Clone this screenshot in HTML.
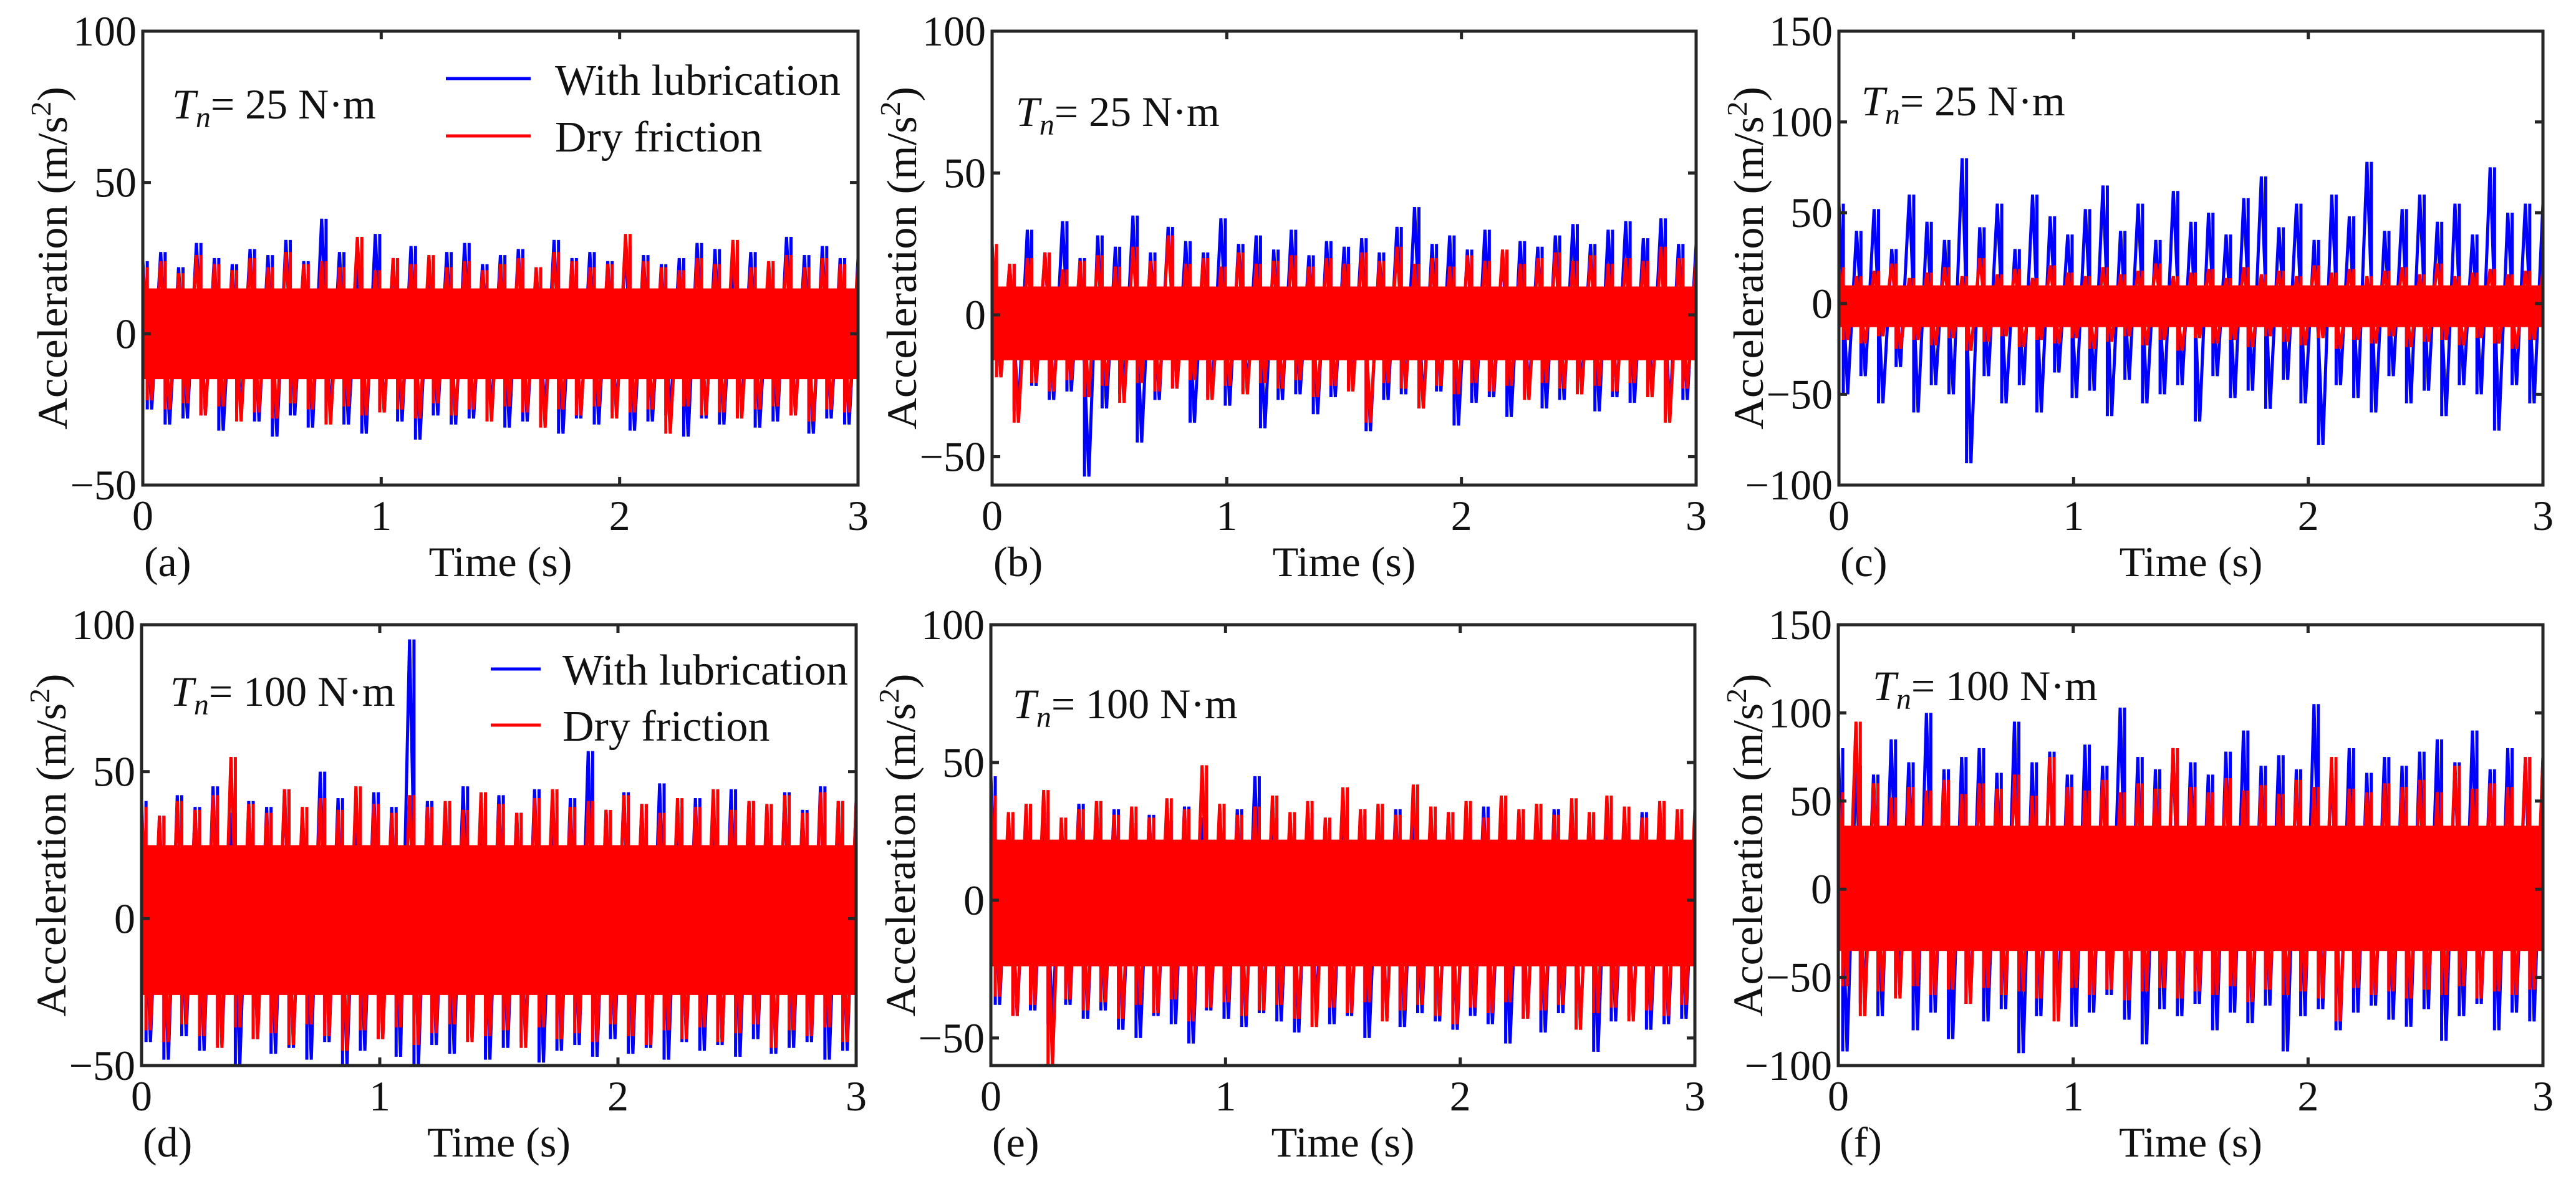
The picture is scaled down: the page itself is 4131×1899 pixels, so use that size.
<!DOCTYPE html>
<html><head><meta charset="utf-8"><title>Acceleration time series</title>
<style>
html,body{margin:0;padding:0;background:#fff;}
svg{display:block;}
svg text{font-family:"Liberation Serif","DejaVu Serif","Times New Roman",serif;fill:#111;}
</style></head>
<body>
<svg id="fig" width="4131" height="1899" viewBox="0 0 4131 1899" xmlns="http://www.w3.org/2000/svg" font-family="'Liberation Serif', 'DejaVu Serif', serif"></svg>
<script>
// time axis
const timeTicks = [0, 1, 2, 3];
// panel (a) Tn=25, x1
const aBlueHi = [24,27,22,30,25,23,28,26,31,24,38,27,22,33,25,29,24,27,30,23,26,28,22,31,25,27,24,29,26,23,25,30,28,24,27,22,32,26,29,25];
const aBlueLo = [-25,-30,-28,-27,-32,-26,-29,-34,-27,-31,-28,-30,-33,-26,-29,-35,-27,-30,-28,-26,-31,-29,-27,-33,-28,-30,-26,-32,-29,-27,-34,-28,-30,-26,-31,-29,-27,-33,-28,-30];
const aRedHi = [22,24,20,26,23,21,25,22,27,23,24,22,32,21,25,23,26,22,24,21,23,25,22,27,24,22,23,33,24,22,21,25,23,31,22,24,26,22,25,23];
const aRedLo = [-22,-25,-23,-27,-24,-29,-26,-28,-23,-25,-30,-24,-27,-26,-25,-28,-23,-27,-25,-29,-24,-26,-31,-25,-27,-24,-28,-26,-25,-33,-24,-27,-26,-28,-25,-24,-27,-29,-25,-26];
const aCore = [-15, 15];
// panel (b) Tn=25, x2
const bBlueHi = [20,18,30,22,33,20,28,24,35,22,31,26,22,34,25,28,23,30,21,26,24,27,22,31,38,25,28,23,30,22,26,24,28,32,25,30,33,27,34,25];
const bBlueLo = [-22,-34,-25,-30,-27,-57,-33,-28,-45,-30,-26,-38,-29,-32,-27,-40,-30,-28,-35,-29,-26,-41,-30,-28,-33,-27,-39,-31,-29,-36,-28,-33,-30,-27,-34,-29,-31,-28,-35,-30];
const bRedHi = [25,18,20,22,16,19,21,17,24,19,28,18,20,17,22,18,19,21,17,20,18,22,19,24,18,20,17,21,19,23,18,20,22,19,21,18,20,19,24,20];
const bRedLo = [-22,-38,-24,-27,-23,-29,-25,-31,-24,-27,-26,-23,-30,-25,-28,-24,-26,-23,-29,-25,-27,-38,-24,-26,-33,-25,-28,-24,-27,-25,-30,-24,-26,-28,-25,-27,-24,-29,-38,-26];
const bCore = [-16, 10];
// panel (c) Tn=25, x3
const cBlueHi = [55,40,52,30,60,45,35,80,42,55,30,60,48,38,52,65,40,55,35,62,45,50,38,58,70,42,55,35,60,48,78,40,52,60,45,55,38,75,50,55];
const cBlueLo = [-50,-40,-55,-35,-60,-45,-50,-88,-40,-55,-45,-60,-38,-52,-48,-62,-42,-55,-50,-45,-65,-40,-52,-48,-58,-42,-55,-78,-45,-52,-60,-40,-55,-48,-62,-45,-50,-70,-45,-55];
const cRedHi = [20,15,18,22,14,17,20,15,25,16,19,14,21,17,15,20,16,18,22,15,17,19,14,20,16,18,15,21,17,19,15,18,20,16,22,15,17,19,16,18];
const cRedLo = [-20,-22,-18,-25,-20,-23,-19,-26,-21,-18,-24,-20,-22,-19,-25,-21,-18,-23,-20,-26,-19,-22,-20,-24,-18,-21,-23,-19,-25,-20,-22,-18,-24,-21,-20,-23,-19,-22,-25,-20];
const cCore = [-13, 10];
// panel (d) Tn=100, x1
const dBlueHi = [40,35,42,38,45,36,40,38,44,37,50,41,36,43,38,95,40,37,45,39,42,36,44,38,41,57,37,43,39,46,38,41,36,44,40,38,43,37,45,40];
const dBlueLo = [-42,-48,-40,-45,-43,-50,-41,-46,-44,-48,-42,-50,-45,-41,-47,-50,-43,-46,-41,-48,-44,-42,-49,-45,-43,-47,-41,-46,-44,-48,-42,-45,-43,-47,-41,-46,-44,-42,-48,-45];
const dRedHi = [38,35,40,37,42,55,39,36,44,38,41,37,45,39,36,42,38,40,37,43,39,36,41,44,38,40,37,42,39,36,41,38,44,37,40,39,42,36,43,40];
const dRedLo = [-38,-42,-36,-40,-44,-37,-41,-39,-43,-36,-40,-45,-38,-41,-37,-43,-39,-36,-42,-40,-38,-44,-37,-41,-39,-42,-36,-40,-43,-38,-41,-37,-42,-39,-36,-44,-38,-40,-37,-42];
const dCore = [-26, 25];
// panel (e) Tn=100, x2
const eBlueHi = [45,30,28,32,27,35,30,33,28,31,29,34,30,27,33,45,30,28,32,29,35,31,28,33,30,27,32,29,34,31,28,30,33,29,31,35,28,32,30,29];
const eBlueLo = [-38,-42,-40,-45,-38,-43,-40,-47,-50,-42,-45,-52,-40,-43,-46,-41,-44,-48,-40,-45,-42,-50,-43,-46,-41,-44,-47,-42,-45,-52,-43,-48,-41,-46,-55,-44,-42,-47,-45,-43];
const eRedHi = [38,32,35,40,30,33,36,31,34,30,37,33,49,35,31,34,38,32,36,30,41,33,35,31,42,34,32,36,30,38,33,35,31,37,32,38,34,30,36,33];
const eRedLo = [-35,-42,-38,-60,-36,-40,-37,-43,-38,-41,-36,-44,-39,-37,-42,-40,-38,-43,-46,-39,-41,-37,-44,-40,-38,-42,-45,-39,-41,-37,-43,-40,-38,-47,-41,-39,-44,-40,-42,-38];
const eCore = [-24, 22];
// panel (f) Tn=100, x3
const fBlueHi = [80,70,65,85,72,100,68,75,80,66,95,72,78,65,82,70,103,75,68,80,72,65,78,90,70,76,68,105,72,80,66,75,70,78,85,72,90,68,80,75];
const fBlueLo = [-92,-65,-72,-60,-80,-70,-85,-65,-75,-68,-93,-72,-66,-78,-70,-60,-74,-88,-68,-72,-65,-80,-70,-76,-66,-92,-72,-68,-80,-70,-66,-74,-78,-68,-86,-72,-65,-80,-70,-75];
const fRedHi = [55,95,60,52,58,56,62,54,60,57,65,53,75,58,56,62,55,60,57,80,58,55,63,56,59,54,62,58,75,57,55,60,58,62,55,70,57,60,58,75];
const fRedLo = [-55,-72,-58,-62,-55,-60,-57,-65,-56,-60,-58,-62,-75,-56,-60,-57,-63,-58,-56,-62,-58,-60,-55,-64,-57,-60,-58,-62,-75,-56,-60,-58,-62,-57,-60,-55,-62,-58,-60,-57];
const fCore = [-35, 36];
// y tick labels
const yTicksA = [-50, 0, 50, 100];
const yTicksC = [-100, -50, 0, 50, 100, 150];
const panelLetters = ['(a)','(b)','(c)','(d)','(e)','(f)'];
const torqueLabels = ['25','25','25','100','100','100'];

const NS = 'http://www.w3.org/2000/svg';
const svg = document.getElementById('fig');
const FONT = "'Liberation Serif', 'DejaVu Serif', serif";
function mk(tag, attrs, parent){
  const e = document.createElementNS(NS, tag);
  for (const k in attrs) e.setAttribute(k, attrs[k]);
  if (tag === 'text') e.setAttribute('font-family', FONT);
  (parent || svg).appendChild(e);
  return e;
}
const panels = [
  {id:'a', x0:229, x1:1376, y0:50, y1:778, ymin:-50, ymax:100, ticks:yTicksA, bh:aBlueHi, bl:aBlueLo, rh:aRedHi, rl:aRedLo, core:aCore, tx:276, ty:190, legend:{lx0:715, lx1:851, ly1:126, ly2:218, tx:890, t1:152, t2:243}},
  {id:'b', x0:1591, x1:2720, y0:50, y1:778, ymin:-60, ymax:100, ticks:yTicksA, bh:bBlueHi, bl:bBlueLo, rh:bRedHi, rl:bRedLo, core:bCore, tx:1629, ty:202},
  {id:'c', x0:2949, x1:4078, y0:50, y1:778, ymin:-100, ymax:150, ticks:yTicksC, bh:cBlueHi, bl:cBlueLo, rh:cRedHi, rl:cRedLo, core:cCore, tx:2985, ty:185},
  {id:'d', x0:227, x1:1373, y0:1002, y1:1709, ymin:-50, ymax:100, ticks:yTicksA, bh:dBlueHi, bl:dBlueLo, rh:dRedHi, rl:dRedLo, core:dCore, tx:273, ty:1132, legend:{lx0:787, lx1:867, ly1:1073, ly2:1163, tx:902, t1:1098, t2:1188}},
  {id:'e', x0:1589, x1:2718, y0:1002, y1:1709, ymin:-60, ymax:100, ticks:yTicksA, bh:eBlueHi, bl:eBlueLo, rh:eRedHi, rl:eRedLo, core:eCore, tx:1624, ty:1152},
  {id:'f', x0:2948, x1:4078, y0:1002, y1:1709, ymin:-100, ymax:150, ticks:yTicksC, bh:fBlueHi, bl:fBlueLo, rh:fRedHi, rl:fRedLo, core:fCore, tx:3003, ty:1123}
];

panels.forEach((p, pi) => {
  const g = mk('g', {});
  
  
  const xs = t => p.x0 + (t - 0) / 3 * (p.x1 - p.x0);
  const ys = v => p.y1 - (v - p.ymin) / (p.ymax - p.ymin) * (p.y1 - p.y0);
  const clipId = 'clip-' + p.id;
  const cp = mk('clipPath', {id: clipId}, g);
  mk('rect', {x:p.x0, y:p.y0, width:p.x1-p.x0, height:p.y1-p.y0}, cp);
  const plot = mk('g', {'clip-path':'url(#'+clipId+')'}, g);

  function drawSeries(hi, lo, color, name){
    const sg = mk('g', {}, plot);
    
    
    const n = hi.length;
    let pts = [];
    for (let i = 0; i < n; i++){
      const t0 = 3 * i / n, t1 = 3 * (i + 0.5) / n;
      pts.push(xs(t0).toFixed(1)+','+ys(hi[i]).toFixed(1));
      pts.push(xs(t1).toFixed(1)+','+ys(lo[i]).toFixed(1));
    }
    pts.push(xs(3).toFixed(1)+','+ys(hi[n-1]).toFixed(1));
    const pl = mk('polyline', {points:pts.join(' '), fill:'none', stroke:color, 'stroke-width':5, 'stroke-linejoin':'miter'}, sg);
    
    
    for (let i = 0; i < n; i++){
      const tx = xs(3 * (i + 0.25) / n);
      const sp = mk('line', {x1:tx, x2:tx, y1:ys(hi[i]), y2:ys(lo[i]), stroke:color, 'stroke-width':5}, sg);
      
      
    }
  }
  drawSeries(p.bh, p.bl, '#0000ff', 'with-lubrication-series');
  const core = mk('rect', {x:p.x0, y:ys(p.core[1]), width:p.x1-p.x0, height:ys(p.core[0])-ys(p.core[1]), fill:'#ff0000'}, plot);
  
  
  drawSeries(p.rh, p.rl, '#ff0000', 'dry-friction-series');

  const fr = mk('rect', {x:p.x0, y:p.y0, width:p.x1-p.x0, height:p.y1-p.y0, fill:'none', stroke:'#262626', 'stroke-width':5}, g);
  
  

  timeTicks.forEach(t => {
    const x = xs(t);
    mk('line', {x1:x, x2:x, y1:p.y1, y2:p.y1-13, stroke:'#262626', 'stroke-width':5}, g);
    mk('line', {x1:x, x2:x, y1:p.y0, y2:p.y0+13, stroke:'#262626', 'stroke-width':5}, g);
    const tl = mk('text', {x:x, y:p.y1+72, 'font-size':68, 'text-anchor':'middle'}, g);
    tl.textContent = String(t);
    
    
  });
  p.ticks.forEach(v => {
    const y = ys(v);
    mk('line', {x1:p.x0, x2:p.x0+13, y1:y, y2:y, stroke:'#262626', 'stroke-width':5}, g);
    mk('line', {x1:p.x1, x2:p.x1-13, y1:y, y2:y, stroke:'#262626', 'stroke-width':5}, g);
    const tl = mk('text', {x:p.x0-10, y:y+23, 'font-size':68, 'text-anchor':'end'}, g);
    tl.textContent = v < 0 ? '\u2212' + Math.abs(v) : String(v);
    
    
  });
  const xt = mk('text', {x:(p.x0+p.x1)/2, y:p.y1+146, 'font-size':68, 'text-anchor':'middle'}, g);
  xt.textContent = 'Time (s)';
  
  
  const cy = (p.y0 + p.y1) / 2;
  const yt = mk('text', {x:0, y:0, 'font-size':68, 'text-anchor':'middle', transform:'translate('+(p.x0-122)+','+cy+') rotate(-90)', textLength:550, lengthAdjust:'spacingAndGlyphs'}, g);
  yt.innerHTML = 'Acceleration (m/s<tspan dy="-26" font-size="46">2</tspan><tspan dy="26">)</tspan>';
  
  
  const lt = mk('text', {x:p.x0+2, y:p.y1+146, 'font-size':68}, g);
  lt.textContent = panelLetters[pi];
  
  
  const tq = mk('text', {x:p.tx, y:p.ty, 'font-size':68}, g);
  tq.innerHTML = '<tspan font-style="italic">T</tspan><tspan font-style="italic" font-size="48" dy="14">n</tspan><tspan dy="-14">= ' + torqueLabels[pi] + ' N\u00b7m</tspan>';
  
  

  if (p.legend){
    const L = p.legend;
    const lg = mk('g', {}, g);
    
    
    const l1 = mk('line', {x1:L.lx0, x2:L.lx1, y1:L.ly1, y2:L.ly1, stroke:'#0000ff', 'stroke-width':5}, lg);
    
    
    const t1 = mk('text', {x:L.tx, y:L.t1, 'font-size':70}, lg);
    t1.textContent = 'With lubrication';
    
    
    const l2 = mk('line', {x1:L.lx0, x2:L.lx1, y1:L.ly2, y2:L.ly2, stroke:'#ff0000', 'stroke-width':5}, lg);
    
    
    const t2 = mk('text', {x:L.tx, y:L.t2, 'font-size':70}, lg);
    t2.textContent = 'Dry friction';
    
    
  }
});
</script>
</body></html>
